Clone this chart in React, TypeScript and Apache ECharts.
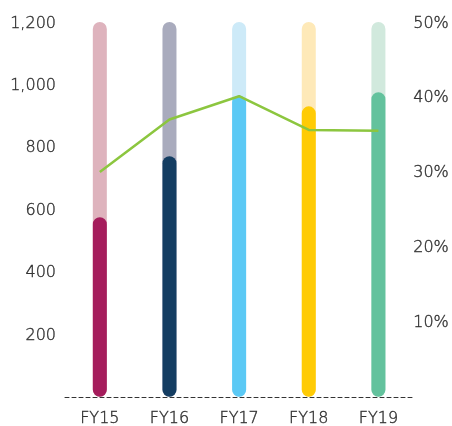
import React, { useEffect, useRef } from "react";
import * as echarts from "echarts";

const categories = ["FY15", "FY16", "FY17", "FY18", "FY19"];
const amounts = [575, 770, 965, 930, 975];
const ratioPct = [30.0, 37.0, 40.1, 35.6, 35.5];
const capValue = 1200;
const leftTicks = [200, 400, 600, 800, 1000, 1200];
const rightTicks = [10, 20, 30, 40, 50];

const solidColors = ["#a51d5c", "#143d62", "#5bc9f5", "#ffcb05", "#63c29d"];
const paleColors = ["#deb3bd", "#a9abbd", "#cdeaf8", "#fee9b8", "#d1e9dd"];

const fontFamily = "'DejaVu Sans', sans-serif";
const labelStyle = {
  color: "#333",
  fontSize: 16,
  fontFamily,
  fontWeight: 200,
  textBorderColor: "#333",
  textBorderWidth: 0.4,
};

export default function App() {
  const ref = useRef<HTMLDivElement>(null);

  useEffect(() => {
    if (!ref.current) return;
    const chart = echarts.init(ref.current, undefined, { renderer: "svg" });
    chart.setOption({
      animation: false,
      grid: { left: 65, right: 36, top: 22, bottom: 27 },
      xAxis: {
        type: "category",
        data: categories,
        axisTick: { show: false },
        axisLine: { show: true, lineStyle: { color: "#333", type: [4, 3], width: 1 } },
        axisLabel: { ...labelStyle, margin: 13 },
      },
      yAxis: [
        {
          type: "value",
          min: 0,
          max: 1200,
          interval: 200,
          splitLine: { show: false },
          axisLine: { show: false },
          axisTick: { show: false },
          axisLabel: {
            ...labelStyle,
            margin: 9,
            formatter: (v: number) =>
              leftTicks.includes(v) ? v.toLocaleString("en-US") : "",
          },
        },
        {
          type: "value",
          min: 0,
          max: 50,
          interval: 10,
          position: "right",
          splitLine: { show: false },
          axisLine: { show: false },
          axisTick: { show: false },
          axisLabel: {
            ...labelStyle,
            margin: 0,
            formatter: (v: number) => (rightTicks.includes(v) ? v + "%" : ""),
          },
        },
      ],
      series: [
        {
          type: "bar",
          data: categories.map((_, i) => ({
            value: capValue,
            itemStyle: { color: paleColors[i] },
          })),
          barWidth: 14,
          itemStyle: { borderRadius: 7 },
          z: 1,
        },
        {
          type: "bar",
          data: amounts.map((v, i) => ({
            value: v,
            itemStyle: { color: solidColors[i] },
          })),
          barWidth: 14,
          barGap: "-100%",
          itemStyle: { borderRadius: 7 },
          z: 2,
        },
        {
          type: "line",
          yAxisIndex: 1,
          data: ratioPct,
          symbol: "none",
          lineStyle: { color: "#8cc63f", width: 2.5 },
          z: 3,
        },
      ],
    });
    return () => chart.dispose();
  }, []);

  return (
    <div
      ref={ref}
      style={{ position: "fixed", left: 0, top: 0, width: 452, height: 426 }}
    />
  );
}
